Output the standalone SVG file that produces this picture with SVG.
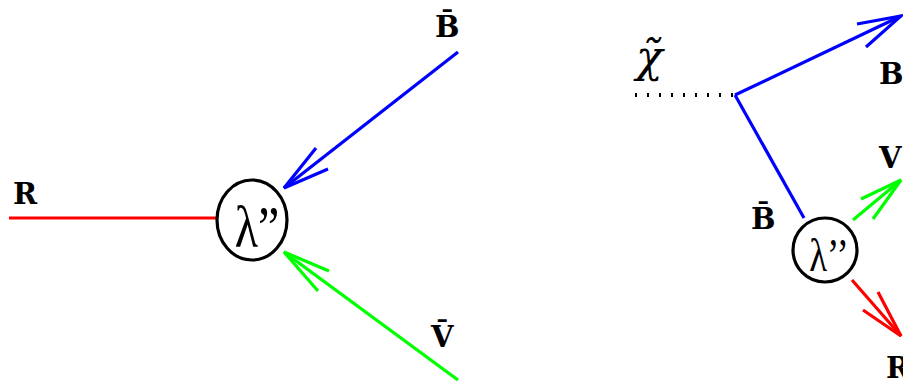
<svg xmlns="http://www.w3.org/2000/svg" width="903" height="383" viewBox="0 0 903 383">
<style>
.ln{fill:none;stroke-width:3.2;stroke-linecap:butt;stroke-linejoin:miter}
.b{stroke:#0000ff}.r{stroke:#ff0000}.g{stroke:#00ff00}
.v{fill:#fff;stroke:#000;stroke-width:3.2}
.lbl{font-family:"DejaVu Serif","Liberation Serif",serif;font-weight:bold;font-size:29px;fill:#000}
.lam{font-family:"Liberation Serif","Times New Roman",serif;fill:#000}
</style>
<rect width="903" height="383" fill="#fff"/>
<g id="connectors">
<line class="ln r" x1="9" y1="218" x2="216" y2="218"/>
<line class="ln b" x1="458" y1="52" x2="284" y2="188"/>
<polyline class="ln b" points="316,148 284,188 328,169"/>
<line class="ln g" x1="458" y1="380" x2="284" y2="252"/>
<polyline class="ln g" points="329,271 284,252 318,291"/>
<line x1="635" y1="95" x2="735" y2="95" stroke="#000" stroke-width="4" stroke-dasharray="2 10" fill="none"/>
<polyline class="ln b" points="735,95 901,16"/>
<polyline class="ln b" points="857,24 901,16 866,47"/>
<line class="ln b" x1="735" y1="95" x2="804" y2="218"/>
<line class="ln g" x1="853" y1="220" x2="901" y2="180"/>
<polyline class="ln g" points="861,199 901,180 873,219"/>
<line class="ln r" x1="852" y1="280" x2="901" y2="336"/>
<polyline class="ln r" points="863,310 901,336 878,292"/>
</g>
<g id="vertex-left">
<ellipse class="v" cx="252" cy="220" rx="35" ry="40"/>
<text class="lam" x="257" y="247" font-size="60" text-anchor="middle" transform="translate(257 0) scale(0.8 1) translate(-257 0)">λ”</text>
</g>
<g id="vertex-right">
<ellipse class="v" cx="825" cy="250" rx="32" ry="32"/>
<text class="lam" x="829" y="271" font-size="46" text-anchor="middle" transform="translate(829 0) scale(0.8 1) translate(-829 0)">λ’’</text>
</g>
<g id="label-R-left"><text class="lbl" x="13" y="204">R</text></g>
<g id="label-Bbar-left"><text class="lbl" x="435" y="37">B̄</text></g>
<g id="label-Vbar-left"><text class="lbl" x="431" y="347">V̄</text></g>
<g id="label-B-right"><text class="lbl" x="879" y="84">B</text></g>
<g id="label-V-right"><text class="lbl" x="879" y="168">V</text></g>
<g id="label-R-right"><text class="lbl" x="886" y="378">R</text></g>
<g id="label-Bbar-right"><text class="lbl" x="751" y="229">B̄</text></g>
<g id="label-chi"><text x="636" y="72" font-family="DejaVu Serif, serif" font-style="italic" font-size="44">χ̃</text></g>
</svg>
